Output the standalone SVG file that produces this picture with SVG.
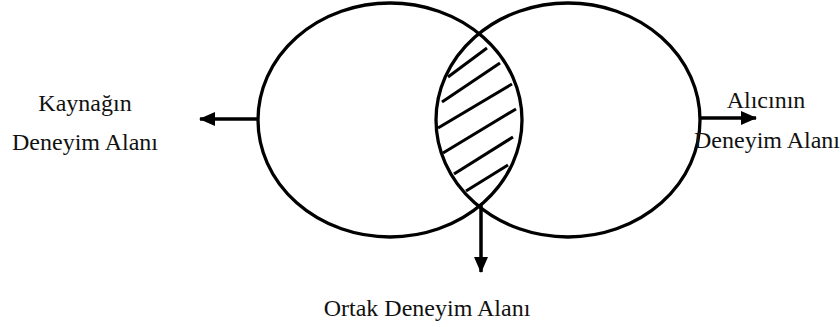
<svg xmlns="http://www.w3.org/2000/svg" width="840" height="327" viewBox="0 0 840 327">
<style>
.c{fill:none;stroke:#000;stroke-width:3.3}
.h{stroke:#000;stroke-width:3;stroke-linecap:butt}
.a{stroke:#000;stroke-width:3.5;fill:none}
.t{font-size:24px;fill:#111;text-anchor:middle}
</style>
<defs>
<marker id="ah" markerUnits="userSpaceOnUse" markerWidth="16" markerHeight="14" refX="15" refY="7" orient="auto">
<path d="M0,0 L16,7 L0,14 Z" fill="#000"/>
</marker>
</defs>
<g id="kaynak">
<ellipse class="c" cx="390" cy="120" rx="132" ry="117"/>
<text class="t" font-family="'Liberation Serif', 'DejaVu Serif', serif" x="85" y="111">Kaynağın</text>
<text class="t" font-family="'Liberation Serif', 'DejaVu Serif', serif" x="85" y="150">Deneyim Alanı</text>
</g>
<g id="alici">
<ellipse class="c" cx="568" cy="120" rx="132" ry="117"/>
<text class="t" font-family="'Liberation Serif', 'DejaVu Serif', serif" x="766" y="108">Alıcının</text>
<text class="t" font-family="'Liberation Serif', 'DejaVu Serif', serif" x="767" y="148">Deneyim Alanı</text>
</g>
<g id="ortak">
<line class="h" x1="448" y1="77" x2="487" y2="48"/>
<line class="h" x1="442" y1="102" x2="500" y2="63"/>
<line class="h" x1="438" y1="128" x2="512" y2="84"/>
<line class="h" x1="443" y1="153" x2="516" y2="109"/>
<line class="h" x1="454" y1="174" x2="513" y2="137"/>
<line class="h" x1="466" y1="191" x2="508" y2="165"/>
<text class="t" font-family="'Liberation Serif', 'DejaVu Serif', serif" x="427" y="316">Ortak Deneyim Alanı</text>
</g>
<g id="connectors">
<line class="a" x1="258" y1="119" x2="200" y2="119" marker-end="url(#ah)"/>
<line class="a" x1="700" y1="118" x2="756" y2="118" marker-end="url(#ah)"/>
<line class="a" x1="481" y1="205" x2="481" y2="272" marker-end="url(#ah)"/>
</g>
</svg>
